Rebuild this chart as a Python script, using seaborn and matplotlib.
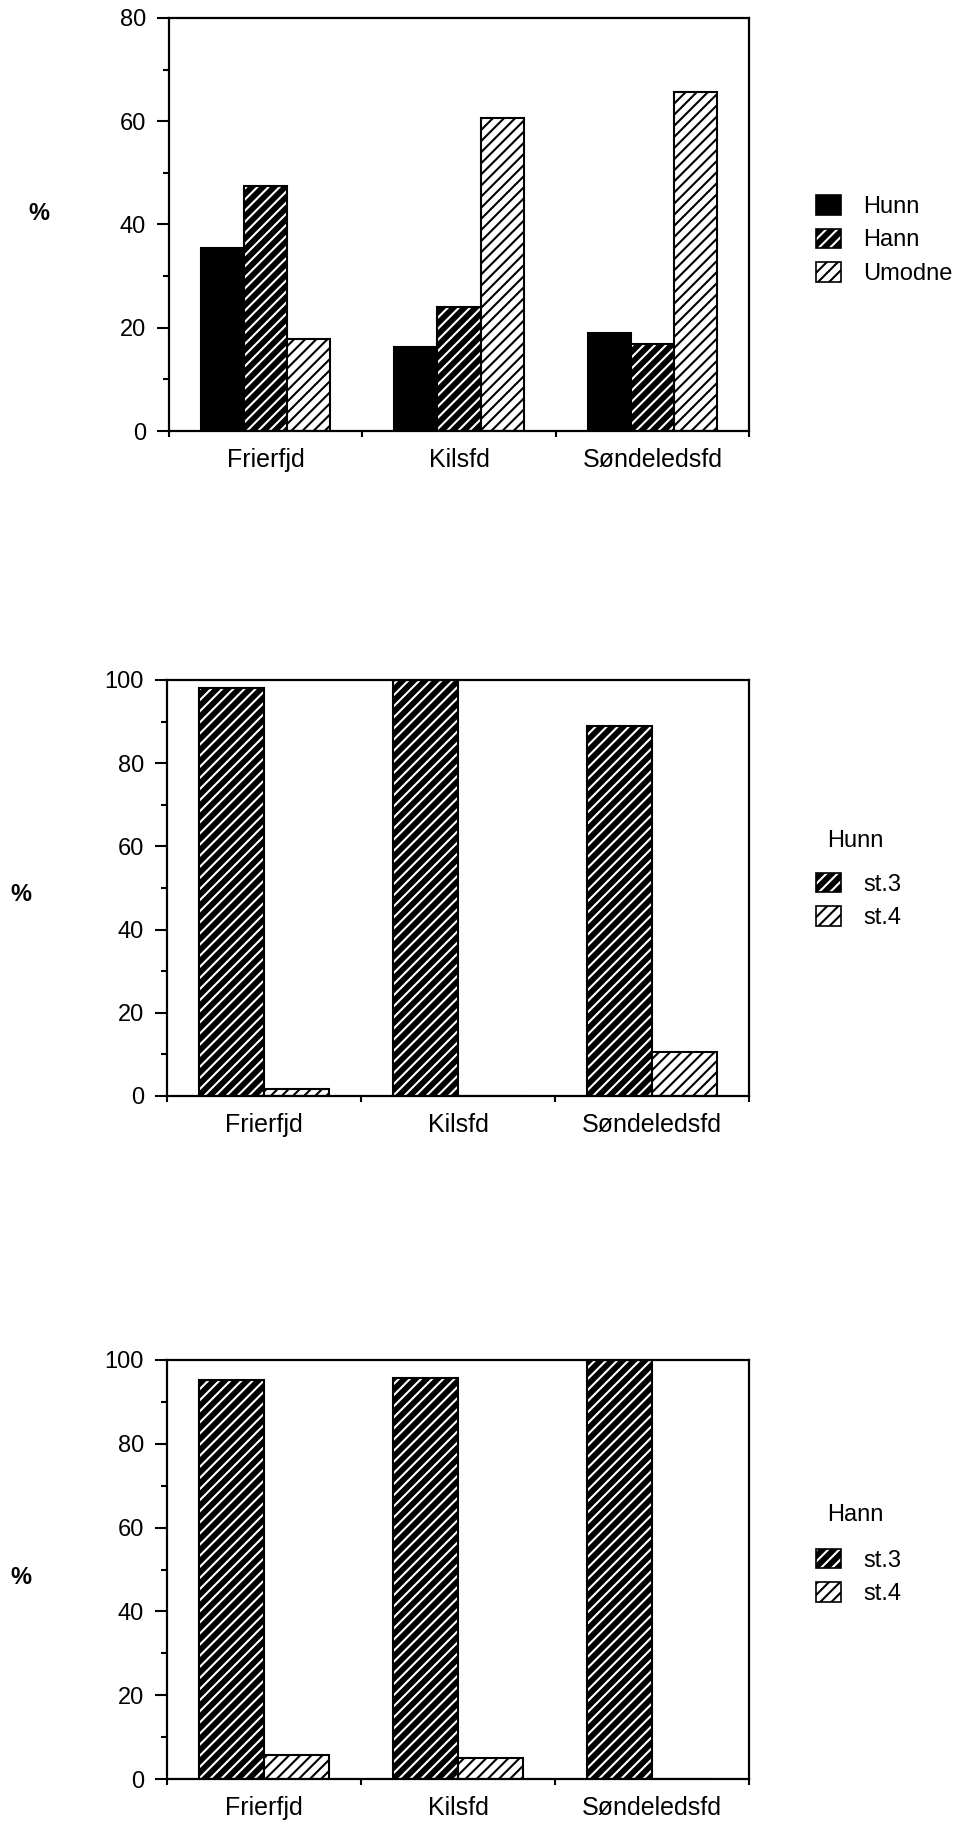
import matplotlib
matplotlib.use("Agg")
import matplotlib.pyplot as plt
import seaborn as sns
import pandas as pd
from matplotlib.ticker import MultipleLocator, FixedLocator
from matplotlib.patches import Patch

# ---------------- data ----------------
sites = ["Frierfjd", "Kilsfd", "Søndeledsfd"]

top_groups = ["Hunn", "Hann", "Umodne"]
hunn_pct = [35.4, 16.3, 18.9]
hann_pct = [47.5, 24.0, 16.8]
umodne_pct = [17.8, 60.6, 65.6]

stages = ["st.3", "st.4"]
hunn_st3 = [98.1, 100.0, 89.0]
hunn_st4 = [1.6, 0.0, 10.6]
hann_st3 = [95.2, 95.6, 100.0]
hann_st4 = [5.8, 5.0, 0.0]

# ---------------- style ----------------
sns.set_theme(style="white")
plt.rcParams["font.family"] = ["Liberation Sans", "DejaVu Sans"]
plt.rcParams["hatch.linewidth"] = 1.5

STYLE = {
    "solid": dict(face="black", hatch=None, hatch_color="black"),
    "dark": dict(face="black", hatch="///", hatch_color="white"),
    "light": dict(face="white", hatch="///", hatch_color="black"),
}
top_styles = {"Hunn": "solid", "Hann": "dark", "Umodne": "light"}
stage_styles = {"st.3": "dark", "st.4": "light"}

W, H = 961.0, 1828.0


def long_df(levels, series):
    rows = []
    for lvl, vals in zip(levels, series):
        for s, v in zip(sites, vals):
            rows.append({"site": s, "group": lvl, "pct": v})
    return pd.DataFrame(rows)


def style_patch(p, key):
    st = STYLE[key]
    p.set_facecolor(st["face"])
    p.set_edgecolor("black")
    if st["hatch"]:
        p.set_hatch(st["hatch"])
    p._hatch_color = matplotlib.colors.to_rgba(st["hatch_color"])


def draw_panel(ax, df, levels, styles, ymax, legend_center_y, title=None, title_y=None):
    sns.barplot(data=df, x="site", y="pct", hue="group", order=sites,
                hue_order=levels, palette={l: "white" for l in levels},
                saturation=1, width=0.67, edgecolor="black", linewidth=1.5,
                errorbar=None, legend=False, ax=ax)
    for lvl, cont in zip(levels, ax.containers):
        for p in cont.patches:
            style_patch(p, styles[lvl])
    ax.set_xlim(-0.5, 2.5)
    ax.set_ylim(0, ymax)
    ax.set_xlabel("")
    ax.set_ylabel("")
    ax.yaxis.set_major_locator(MultipleLocator(20))
    ax.yaxis.set_minor_locator(MultipleLocator(10))
    ax.xaxis.set_minor_locator(FixedLocator([-0.5, 0.5, 1.5, 2.5]))
    ax.tick_params(axis="y", which="major", direction="out", length=8.6,
                   width=1.5, labelsize=17, pad=8, left=True, color="black")
    ax.tick_params(axis="y", which="minor", direction="out", length=4.3,
                   width=1.5, left=True, color="black")
    ax.tick_params(axis="x", which="major", length=0, labelsize=18, pad=12)
    ax.tick_params(axis="x", which="minor", direction="out", length=4,
                   width=1.5, bottom=True, color="black")
    for sp in ax.spines.values():
        sp.set_visible(True)
        sp.set_color("black")
        sp.set_linewidth(1.6)
    for lbl in ax.get_xticklabels() + ax.get_yticklabels():
        lbl.set_color("black")

    handles = []
    for lvl in levels:
        st = STYLE[styles[lvl]]
        handles.append(Patch(facecolor=st["face"], edgecolor="black",
                             hatch=st["hatch"], linewidth=1.2, label=lvl))
    leg = ax.figure.legend(handles=handles, loc="center left",
                           bbox_to_anchor=(816 / W, 1 - legend_center_y / H),
                           frameon=False, fontsize=17,
                           handlelength=1.06, handleheight=0.9,
                           handletextpad=0.93, labelspacing=0.45,
                           borderpad=0, borderaxespad=0)
    for lp, lvl in zip(leg.get_patches(), levels):
        lp._hatch_color = matplotlib.colors.to_rgba(STYLE[styles[lvl]]["hatch_color"])
    for t in leg.get_texts():
        t.set_color("black")
    if title:
        ax.figure.text(855 / W, 1 - title_y / H, title, fontsize=17,
                       ha="center", va="center", color="black")


fig = plt.figure(figsize=(9.61, 18.28), dpi=100)


def add_axes(left, right, top, bottom):
    return fig.add_axes([left / W, 1 - bottom / H, (right - left) / W, (bottom - top) / H])


ax1 = add_axes(169, 749, 18, 431)
ax2 = add_axes(167, 749, 680, 1096)
ax3 = add_axes(167, 749, 1360, 1779)

draw_panel(ax1, long_df(top_groups, [hunn_pct, hann_pct, umodne_pct]),
           top_groups, top_styles, 80, 240)
draw_panel(ax2, long_df(stages, [hunn_st3, hunn_st4]),
           stages, stage_styles, 100, 901, "Hunn", 841)
draw_panel(ax3, long_df(stages, [hann_st3, hann_st4]),
           stages, stage_styles, 100, 1577, "Hann", 1515)

for x, y in [(39, 214), (21, 895), (21, 1577)]:
    fig.text(x / W, 1 - y / H, "%", fontsize=17, fontweight="bold",
             ha="center", va="center", color="black")

fig.savefig("out.png", dpi=100)
